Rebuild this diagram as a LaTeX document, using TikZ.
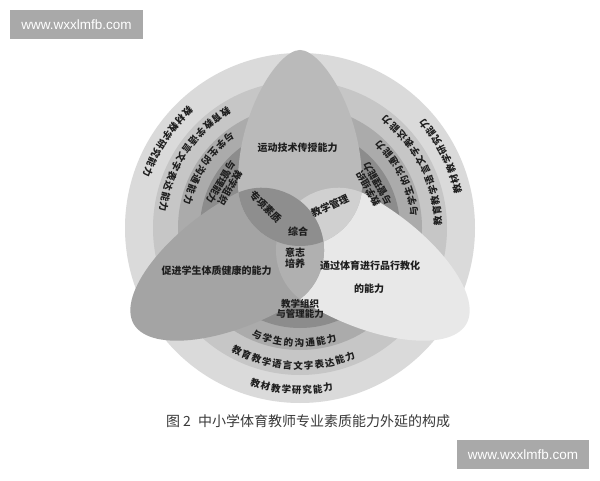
\documentclass[tikz,border=0pt]{standalone}
\usepackage{fontspec}
\setmainfont{Liberation Sans}
\newfontfamily\cjk{Noto Sans CJK SC}
\usetikzlibrary{calc}
\definecolor{ringA}{HTML}{DADADA}
\definecolor{ringB}{HTML}{C6C6C6}
\definecolor{ringC}{HTML}{ABABAB}
\definecolor{ringD}{HTML}{8C8C8C}
\definecolor{petT}{HTML}{BABABA}
\definecolor{petL}{HTML}{A4A4A4}
\definecolor{petR}{HTML}{E8E8E8}
\definecolor{capT}{HTML}{8E8E8E}
\definecolor{capR}{HTML}{D0D0D0}
\definecolor{capB}{HTML}{B0B0B0}
\definecolor{wmgrey}{HTML}{A9A9A9}
\definecolor{txtc}{HTML}{1E1E1E}
\definecolor{capc}{HTML}{3A3A3A}
\newcommand\petalTop{(0,178) .. controls (22,178) and (63,115) .. (62,43) .. controls (62,9) and (34,-18) .. (0,-18) .. controls (-34,-18) and (-62,9) .. (-62,43) .. controls (-63,115) and (-22,178) .. (0,178) -- cycle}
\newcommand\petalLow{(0,192) .. controls (34,192) and (64,118) .. (62,43) .. controls (62,9) and (34,-18) .. (0,-18) .. controls (-34,-18) and (-62,9) .. (-62,43) .. controls (-64,118) and (-34,192) .. (0,192) -- cycle}
\tikzset{
  ringlbl/.style={font=\cjk\bfseries\fontsize{9.5}{10.5}\selectfont, text=txtc, inner sep=0pt},
  petlbl/.style={font=\cjk\bfseries\fontsize{10}{11}\selectfont, text=txtc, inner sep=0pt},
  wmbox/.style={fill=wmgrey, text=white, font=\fontsize{13.5}{15}\selectfont, inner sep=0pt, minimum height=29pt},
  caplbl/.style={font=\cjk\fontsize{14}{16}\selectfont, text=capc, inner sep=0pt}
}
\newcommand\ringtext[6]{%
  \foreach \ch [count=\k from 0] in {#5}{%
    \pgfmathsetmacro\ang{#2+(\k-(#4-1)/2)*#3}%
    \path (O) ++(\ang:#1) node[ringlbl,rotate=\ang+90] (#6\k) {\ch};
  }}
\begin{document}
\begin{tikzpicture}[x=1pt,y=1pt]
\useasboundingbox (0,0) rectangle (600,480);
\fill[white] (0,0) rectangle (600,480);
\coordinate (O) at (300,252);
% rings
\fill[ringA] (O) circle (175);
\fill[ringB] (O) circle (147);
\fill[ringC] (O) circle (122);
\fill[ringD] (O) circle (100);
% petals
\begin{scope}[shift={(300,252)}]
  \fill[petR, rotate=-120] \petalLow;
  \fill[petL, rotate=120] \petalLow;
  \fill[petT] \petalTop;
  \begin{scope}
    \clip \petalTop;
    \fill[capR, rotate=-120] \petalLow;
  \end{scope}
  \begin{scope}[rotate=120]
    \clip \petalLow;
    \begin{scope}[rotate=120]
      \fill[capB] \petalLow;
    \end{scope}
  \end{scope}
  \begin{scope}
    \clip \petalTop;
    \fill[capT, rotate=120] \petalLow;
  \end{scope}
\end{scope}
% ring texts
\foreach \c/\p in {-93/a,27/b,147/c}{
  \ringtext{162}{\c}{3.7}{8}{教,材,教,学,研,究,能,力}{o\p}
  \ringtext{138}{\c}{4.4}{12}{教,育,教,学,语,言,文,字,表,达,能,力}{m\p}
  \ringtext{115}{\c}{5.4}{8}{与,学,生,的,沟,通,能,力}{i\p}
}
\path (O) ++(-90:81) node[ringlbl, align=center, rotate=0] (ka) {教学组织\\与管理能力};
\path (O) ++(30:84) node[ringlbl, align=center, rotate=120] (kb) {教学组织\\与管理能力};
\path (O) ++(150:86) node[ringlbl, align=center, rotate=240] (kc) {教学组织\\与管理能力};
% petal labels
\node[petlbl] (pt) at (297.5,332) {运动技术传授能力};
\node[petlbl] (pl) at (216.5,209) {促进学生体质健康的能力};
\node[petlbl] (pr1) at (370,214) {通过体育进行品行教化};
\node[petlbl] (pr2) at (369,191) {的能力};
\node[petlbl, rotate=-45] (zx) at (265.5,273) {专项素质};
\node[petlbl] (zh) at (298,248) {综合};
\node[petlbl, rotate=25] (jx) at (330,274) {教学管理};
\node[petlbl, align=center, font=\cjk\bfseries\fontsize{10}{11}\selectfont] (yz) at (295,222) {意志\\培养};
% caption
\node[caplbl] (fig) at (178.5,59) {图 2};
\node[caplbl] (cap) at (324,59) {中小学体育教师专业素质能力外延的构成};
% watermarks
\node[wmbox, minimum width=133pt] (wm1) at (76.5,455.5) {www.wxxlmfb.com};
\node[wmbox, minimum width=132pt] (wm2) at (523,25.5) {www.wxxlmfb.com};
\end{tikzpicture}
\end{document}
